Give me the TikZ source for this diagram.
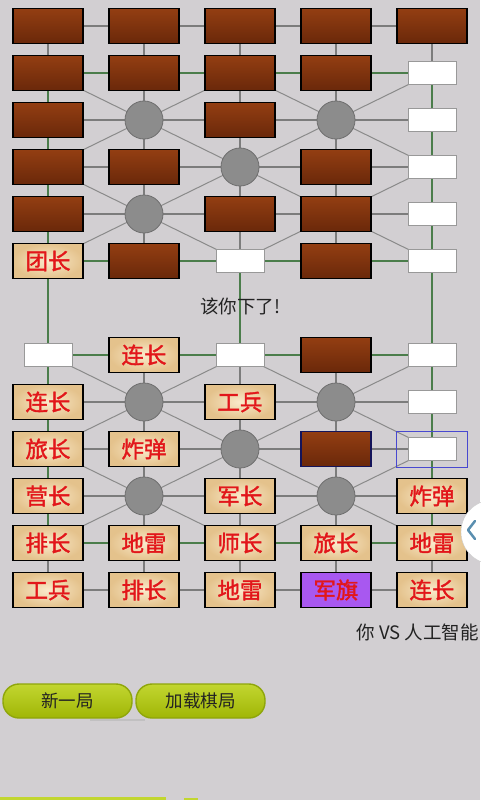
\documentclass[tikz,border=0pt]{standalone}
\usepackage{fontspec}
\newfontfamily\cjk{Noto Sans CJK SC}
\newfontfamily\cjkb[FakeBold=1.6]{Noto Sans CJK SC}
\definecolor{bg}{HTML}{D2CFD2}
\definecolor{greyln}{HTML}{7C7C7C}
\definecolor{diagln}{HTML}{8A8A8A}
\definecolor{greenln}{HTML}{4B7D4B}
\definecolor{woodA}{HTML}{933E12}
\definecolor{woodB}{HTML}{6A280A}
\definecolor{beigeIn}{HTML}{FAEACB}
\definecolor{beigeOut}{HTML}{E4C28C}
\definecolor{pcred}{HTML}{E2161A}
\definecolor{flagpurple}{HTML}{A858F0}
\definecolor{campfill}{HTML}{8C8C8C}
\definecolor{campdraw}{HTML}{6E6E6E}
\definecolor{selblue}{HTML}{4848D0}
\definecolor{navy}{HTML}{14145A}
\definecolor{btnTop}{HTML}{C2D630}
\definecolor{btnBot}{HTML}{A0B606}
\definecolor{btnDraw}{HTML}{8FA60A}
\definecolor{txtdark}{HTML}{222222}
\definecolor{tabarrow}{HTML}{5A8FB0}
\begin{document}
\begin{tikzpicture}[x=1pt,y=-1pt,
  greyline/.style={draw=greyln,line width=1.3pt},
  diagline/.style={draw=diagln,line width=1pt},
  greenline/.style={draw=greenln,line width=2pt},
  brownpc/.style={draw=black,line width=1.6pt,minimum width=70pt,minimum height=35pt,inner sep=0pt,top color=woodA,bottom color=woodB},
  labelpc/.style={draw=black,line width=1.6pt,minimum width=70pt,minimum height=35pt,inner sep=0pt,inner color=beigeIn,outer color=beigeOut,text=pcred,font=\cjkb\fontsize{22.5}{22.5}\selectfont},
  flagpc/.style={labelpc,inner color=flagpurple,outer color=flagpurple},
  emptyspot/.style={draw=gray!80,line width=0.8pt,fill=white,minimum width=48pt,minimum height=23pt,inner sep=0pt},
  camp/.style={circle,draw=campdraw,line width=0.8pt,fill=campfill,minimum size=38pt,inner sep=0pt},
  btn/.style={draw=btnDraw,line width=1.4pt,rounded corners=16pt,minimum width=129pt,minimum height=34pt,top color=btnTop,bottom color=btnBot,text=txtdark,font=\cjk\fontsize{17.5}{17.5}\selectfont},
  status/.style={text=txtdark,font=\cjk\fontsize{18.5}{18.5}\selectfont,inner sep=0pt}
]
\useasboundingbox (0,0) rectangle (480,800);
\fill[bg] (0,0) rectangle (480,800);
% grid points
\foreach \r/\y in {1/26,2/73,3/120,4/167,5/214,6/261,7/355,8/402,9/449,10/496,11/543,12/590}
  \foreach \c/\x in {1/48,2/144,3/240,4/336,5/432}
    \coordinate (g\r-\c) at (\x,\y);
% horizontal lines
\foreach \r in {1,3,4,5,8,9,10,12}
  \foreach \c/\d in {1/2,2/3,3/4,4/5}
    \draw[greyline] (g\r-\c) -- (g\r-\d);
\foreach \r in {2,6,7,11}
  \foreach \c/\d in {1/2,2/3,3/4,4/5}
    \draw[greenline] (g\r-\c) -- (g\r-\d);
% vertical lines
\foreach \c in {2,3,4}
  \foreach \r/\s in {1/2,2/3,3/4,4/5,5/6,7/8,8/9,9/10,10/11,11/12}
    \draw[greyline] (g\r-\c) -- (g\s-\c);
\foreach \c in {1,5}
  \foreach \r/\s in {1/2,11/12}
    \draw[greyline] (g\r-\c) -- (g\s-\c);
\foreach \c in {1,5}
  \foreach \r/\s in {2/3,3/4,4/5,5/6,6/7,7/8,8/9,9/10,10/11}
    \draw[greenline] (g\r-\c) -- (g\s-\c);
\draw[greenline] (g6-3) -- (g7-3);
% diagonals
\foreach \a/\b in {2-1/4-3,4-1/2-3,2-3/4-5,4-3/2-5,4-1/6-3,6-1/4-3,4-3/6-5,6-3/4-5,
                   7-1/9-3,9-1/7-3,7-3/9-5,9-3/7-5,9-1/11-3,11-1/9-3,9-3/11-5,11-3/9-5}
  \draw[diagline] (g\a) -- (g\b);
% row 1
\foreach \c in {1,...,5} \node[brownpc] (n1-\c) at (g1-\c) {};
% row 2
\foreach \c in {1,...,4} \node[brownpc] (n2-\c) at (g2-\c) {};
\node[emptyspot] (n2-5) at (g2-5) {};
% row 3
\node[brownpc] (n3-1) at (g3-1) {};
\node[camp] (n3-2) at (g3-2) {};
\node[brownpc] (n3-3) at (g3-3) {};
\node[camp] (n3-4) at (g3-4) {};
\node[emptyspot] (n3-5) at (g3-5) {};
% row 4
\node[brownpc] (n4-1) at (g4-1) {};
\node[brownpc] (n4-2) at (g4-2) {};
\node[camp] (n4-3) at (g4-3) {};
\node[brownpc] (n4-4) at (g4-4) {};
\node[emptyspot] (n4-5) at (g4-5) {};
% row 5
\node[brownpc] (n5-1) at (g5-1) {};
\node[camp] (n5-2) at (g5-2) {};
\node[brownpc] (n5-3) at (g5-3) {};
\node[brownpc] (n5-4) at (g5-4) {};
\node[emptyspot] (n5-5) at (g5-5) {};
% row 6
\node[labelpc] (n6-1) at (g6-1) {团长};
\node[brownpc] (n6-2) at (g6-2) {};
\node[emptyspot] (n6-3) at (g6-3) {};
\node[brownpc] (n6-4) at (g6-4) {};
\node[emptyspot] (n6-5) at (g6-5) {};
% row 7
\node[emptyspot] (n7-1) at (g7-1) {};
\node[labelpc] (n7-2) at (g7-2) {连长};
\node[emptyspot] (n7-3) at (g7-3) {};
\node[brownpc] (n7-4) at (g7-4) {};
\node[emptyspot] (n7-5) at (g7-5) {};
% row 8
\node[labelpc] (n8-1) at (g8-1) {连长};
\node[camp] (n8-2) at (g8-2) {};
\node[labelpc] (n8-3) at (g8-3) {工兵};
\node[camp] (n8-4) at (g8-4) {};
\node[emptyspot] (n8-5) at (g8-5) {};
% row 9
\node[labelpc] (n9-1) at (g9-1) {旅长};
\node[labelpc] (n9-2) at (g9-2) {炸弹};
\node[camp] (n9-3) at (g9-3) {};
\node[brownpc,draw=navy] (n9-4) at (g9-4) {};
\node[emptyspot] (n9-5) at (g9-5) {};
\node[draw=selblue,line width=0.8pt,minimum width=71pt,minimum height=36pt,inner sep=0pt] (sel) at (g9-5) {};
% row 10
\node[labelpc] (n10-1) at (g10-1) {营长};
\node[camp] (n10-2) at (g10-2) {};
\node[labelpc] (n10-3) at (g10-3) {军长};
\node[camp] (n10-4) at (g10-4) {};
\node[labelpc] (n10-5) at (g10-5) {炸弹};
% row 11
\node[labelpc] (n11-1) at (g11-1) {排长};
\node[labelpc] (n11-2) at (g11-2) {地雷};
\node[labelpc] (n11-3) at (g11-3) {师长};
\node[labelpc] (n11-4) at (g11-4) {旅长};
\node[labelpc] (n11-5) at (g11-5) {地雷};
% row 12
\node[labelpc] (n12-1) at (g12-1) {工兵};
\node[labelpc] (n12-2) at (g12-2) {排长};
\node[labelpc] (n12-3) at (g12-3) {地雷};
\node[flagpc] (n12-4) at (g12-4) {军旗};
\node[labelpc] (n12-5) at (g12-5) {连长};
% texts
\node[status] (turn) at (240,306) {该你下了!};
\node[status,anchor=east] (vs) at (479,632) {你 VS 人工智能};
% buttons
\fill[gray!60,opacity=0.5] (90,719) rectangle (145,721);
\node[btn] (newgame) at (67.5,701) {新一局};
\node[btn] (loadgame) at (200.5,701) {加载棋局};
% partial buttons at bottom edge
\fill[btnTop] (0,797) rectangle (166,800);
\fill[btnTop] (184,798) rectangle (198,800);
% side tab
\fill[white,draw=gray!40] (493,532) circle (32pt);
\draw[tabarrow,line width=2.5pt,line cap=round,line join=round] (475,521) -- (468,530) -- (475,539);
\end{tikzpicture}
\end{document}
